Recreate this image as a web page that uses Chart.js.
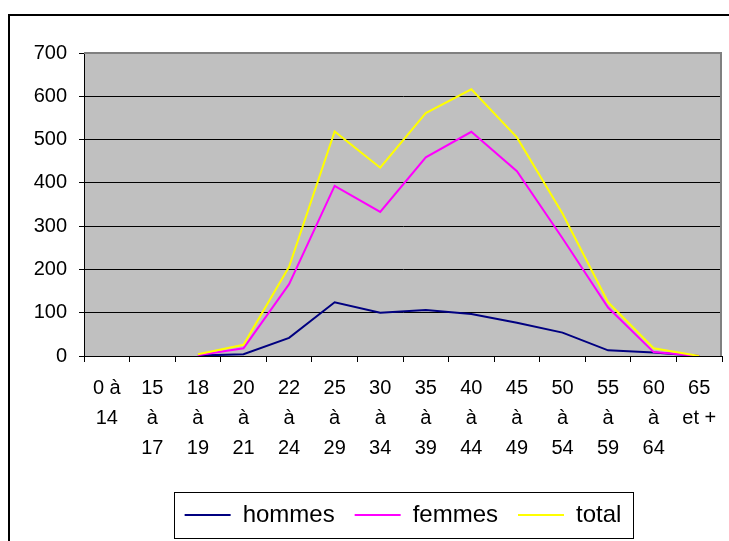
<html>
<head>
    <meta charset="UTF-8">
    <script src="https://cdn.jsdelivr.net/npm/chart.js"></script>
    <title>hommes / femmes / total</title>
    <style>
        body { margin: 0; background: #fff; }
    </style>
</head>
<body>
    <canvas id="graphique" width="729" height="541"></canvas>
    <script>
        // tranches d'age (etiquettes sur plusieurs lignes)
        const tranches = [
            ['0 à', '14'], ['15', 'à', '17'], ['18', 'à', '19'], ['20', 'à', '21'],
            ['22', 'à', '24'], ['25', 'à', '29'], ['30', 'à', '34'], ['35', 'à', '39'],
            ['40', 'à', '44'], ['45', 'à', '49'], ['50', 'à', '54'], ['55', 'à', '59'],
            ['60', 'à', '64'], ['65', 'et +']
        ];
        const hommes = [null, null, 1, 4, 42, 124, 100, 106, 97, 77, 54, 13, 8, 0];
        const femmes = [null, null, 2, 18, 166, 393, 333, 459, 518, 427, 272, 112, 9, 0];
        const total = [null, null, 4, 26, 206, 519, 435, 561, 616, 505, 329, 124, 18, 0];
        const yMin = 0;
        const yMax = 700;
        const yPas = 100;

        const police = 'Liberation Sans, Arial, sans-serif';

        // fond gris, bordure de la zone de tracé, cadre et boite de legende
        const cadre = {
            id: 'cadre',
            beforeDraw(chart) {
                const ctx = chart.ctx;
                const a = chart.chartArea;
                ctx.save();
                ctx.fillStyle = '#fff';
                ctx.fillRect(0, 0, chart.width, chart.height);
                ctx.fillStyle = '#c0c0c0';
                ctx.fillRect(a.left, a.top, a.right - a.left, a.bottom - a.top);
                ctx.restore();
            },
            afterDatasetsDraw(chart) {
                const ctx = chart.ctx;
                const a = chart.chartArea;
                ctx.save();
                ctx.strokeStyle = '#808080';
                ctx.lineWidth = 2;
                ctx.beginPath();
                ctx.moveTo(a.left, a.top);
                ctx.lineTo(a.right - 1, a.top);
                ctx.lineTo(a.right - 1, a.bottom);
                ctx.stroke();
                ctx.restore();
            },
            afterDraw(chart) {
                const ctx = chart.ctx;
                ctx.save();
                ctx.strokeStyle = '#000';
                ctx.lineWidth = 2;
                ctx.strokeRect(9, 15, 800, 600);

                const boites = chart.legend.legendHitBoxes;
                if (boites && boites.length) {
                    const premier = boites[0];
                    const dernier = boites[boites.length - 1];
                    const gauche = premier.left - 11;
                    const droite = dernier.left + dernier.width + 11;
                    const milieu = premier.top + premier.height / 2;
                    ctx.lineWidth = 1;
                    ctx.strokeRect(Math.round(gauche) + 0.5, Math.round(milieu - 23) + 0.5,
                        Math.round(droite - gauche), 46);
                }
                ctx.restore();
            }
        };

        const data = {
            labels: tranches,
            datasets: [
                { label: 'hommes', data: hommes, borderColor: '#000080', backgroundColor: '#000080', borderWidth: 2, order: 3 },
                { label: 'femmes', data: femmes, borderColor: '#ff00ff', backgroundColor: '#ff00ff', borderWidth: 2, order: 2 },
                { label: 'total', data: total, borderColor: '#ffff00', backgroundColor: '#ffff00', borderWidth: 2, order: 1 }
            ]
        };

        const config = {
            type: 'line',
            data: data,
            options: {
                responsive: false,
                animation: false,
                layout: { padding: { left: 10, top: 53, right: 7, bottom: 4 } },
                elements: {
                    line: { borderWidth: 2, tension: 0, fill: false },
                    point: { radius: 0, hoverRadius: 0 }
                },
                scales: {
                    x: {
                        type: 'category',
                        offset: true,
                        grid: { offset: true, drawOnChartArea: false, drawTicks: true, tickLength: 6, color: '#000' },
                        border: { color: '#000', width: 1 },
                        ticks: {
                            autoSkip: false,
                            maxRotation: 0,
                            padding: 11,
                            color: '#000',
                            font: { family: police, size: 20, lineHeight: 1.5 }
                        },
                        afterFit(s) { s.height = 127; }
                    },
                    y: {
                        min: yMin,
                        max: yMax,
                        grid: { color: '#000', tickLength: 5 },
                        border: { color: '#000', width: 1 },
                        ticks: {
                            stepSize: yPas,
                            padding: 12,
                            color: '#000',
                            font: { family: police, size: 20 }
                        },
                        afterFit(s) { s.width = 74; }
                    }
                },
                plugins: {
                    tooltip: { enabled: false },
                    legend: {
                        position: 'bottom',
                        fullSize: false,
                        labels: {
                            usePointStyle: true,
                            pointStyle: 'line',
                            pointStyleWidth: 46,
                            padding: 20,
                            color: '#000',
                            font: { family: police, size: 24 },
                            sort: (a, b) => a.datasetIndex - b.datasetIndex
                        }
                    }
                }
            },
            plugins: [cadre]
        };

        const graphique = new Chart(document.getElementById('graphique'), config);
    </script>
</body>
</html>
